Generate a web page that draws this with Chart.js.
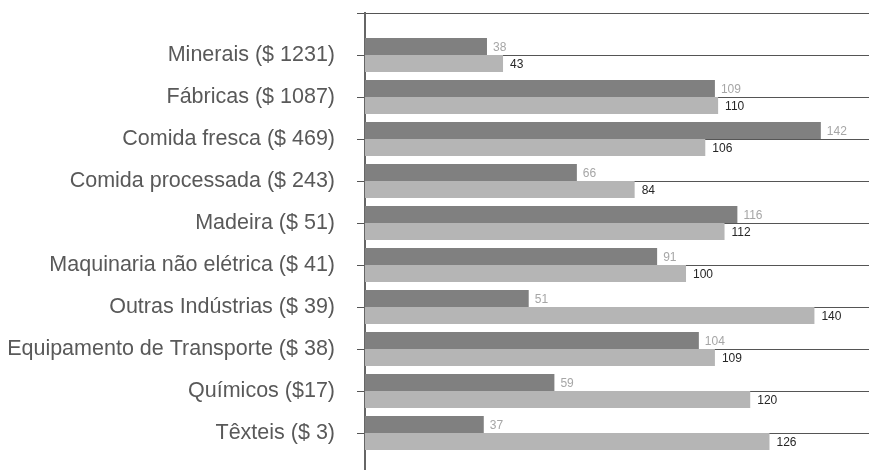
<!DOCTYPE html>
<html>
<head>
<meta charset="utf-8">
<script src="https://cdn.jsdelivr.net/npm/chart.js@4/dist/chart.umd.min.js"></script>
<style>
  html, body { margin: 0; padding: 0; background: #fff; }
</style>
</head>
<body>
<canvas id="chart" width="869" height="470"></canvas>
<script>
const categories = [
  "Minerais ($ 1231)",
  "Fábricas ($ 1087)",
  "Comida fresca ($ 469)",
  "Comida processada ($ 243)",
  "Madeira ($ 51)",
  "Maquinaria não elétrica ($ 41)",
  "Outras Indústrias ($ 39)",
  "Equipamento de Transporte ($ 38)",
  "Químicos ($17)",
  "Têxteis ($ 3)"
];
const darkValues = [38, 109, 142, 66, 116, 91, 51, 104, 59, 37];
const lightValues = [43, 110, 106, 84, 112, 100, 140, 109, 120, 126];

// bars sit on a linear index axis so the empty slot above the first row gets its gridline
const toPoints = (vals) => vals.map((v, i) => ({ x: v, y: i }));

const valueLabels = {
  id: "valueLabels",
  afterDatasetsDraw(chart) {
    const ctx = chart.ctx;
    ctx.save();
    ctx.font = "12px 'Liberation Sans', Arial, sans-serif";
    ctx.textBaseline = "middle";
    ctx.textAlign = "left";
    chart.data.datasets.forEach((ds, di) => {
      const meta = chart.getDatasetMeta(di);
      ctx.fillStyle = di === 0 ? "#a6a6a6" : "#262626";
      const gap = di === 0 ? 6 : 7;
      meta.data.forEach((bar, i) => {
        ctx.fillText(String(ds.data[i].x), bar.x + gap, bar.y + 1);
      });
    });
    ctx.restore();
  }
};

new Chart(document.getElementById("chart"), {
  type: "bar",
  data: {
    datasets: [
      {
        data: toPoints(darkValues),
        backgroundColor: "#808080",
        categoryPercentage: 0.81,
        barPercentage: 1.0
      },
      {
        data: toPoints(lightValues),
        backgroundColor: "#b5b5b5",
        categoryPercentage: 0.81,
        barPercentage: 1.0
      }
    ]
  },
  options: {
    indexAxis: "y",
    responsive: false,
    devicePixelRatio: 1,
    animation: false,
    layout: { padding: { top: 13, right: 0, bottom: 0, left: 0 } },
    plugins: {
      legend: { display: false },
      tooltip: { enabled: false },
      title: { display: false }
    },
    scales: {
      x: {
        type: "linear",
        min: 0,
        max: 157,
        display: false
      },
      y: {
        type: "linear",
        min: -1,
        max: 9.88,
        reverse: true,
        offset: false,
        afterBuildTicks(scale) {
          scale.ticks = [-1, 0, 1, 2, 3, 4, 5, 6, 7, 8, 9].map(v => ({ value: v }));
        },
        afterFit(scale) {
          scale.width = 365;
          scale.paddingTop = 0;
          scale.paddingBottom = 0;
        },
        ticks: {
          autoSkip: false,
          padding: 22,
          color: "#595959",
          font: { family: "'Liberation Sans', Arial, sans-serif", size: 21.5 },
          callback: (v) => categories[v] || ""
        },
        grid: {
          offset: false,
          color: "#555555",
          lineWidth: 1,
          tickLength: 8,
          tickColor: "#555555"
        },
        border: {
          display: true,
          color: "#666666",
          width: 2
        }
      }
    }
  },
  plugins: [valueLabels]
});
</script>
</body>
</html>
